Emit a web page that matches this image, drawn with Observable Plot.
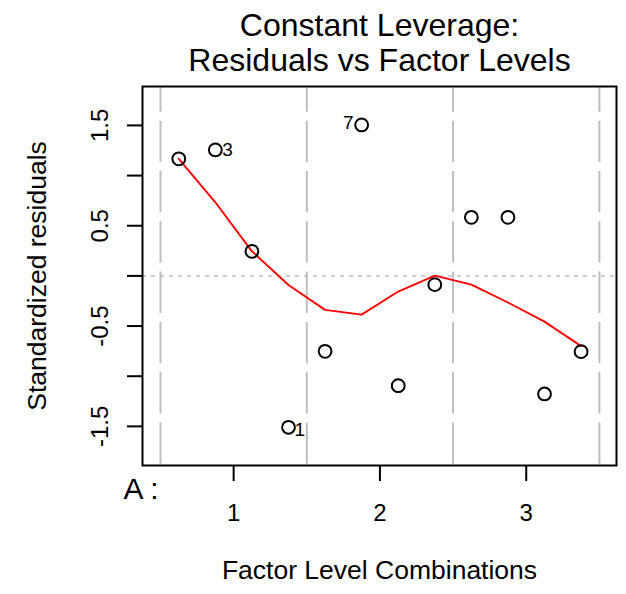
<!DOCTYPE html>
<html>
<head>
<meta charset="utf-8">
<script src="https://cdn.jsdelivr.net/npm/d3@7"></script>
<script src="https://cdn.jsdelivr.net/npm/@observablehq/plot@0.6"></script>
<style>
  html, body { margin: 0; padding: 0; background: #ffffff; }
  #chart svg { display: block; font-family: "Liberation Sans", Arial, Helvetica, sans-serif; }
</style>
</head>
<body>
<div id="chart"></div>
<script>
// ---- data ----
const titleLines = ["Constant Leverage:", "Residuals vs Factor Levels"];
const xLabel = "Factor Level Combinations";
const yLabel = "Standardized residuals";
const factorName = "A :";

// position of each observation along the factor-level axis
const facPos = [0.625, 0.875, 1.125, 1.375, 1.625, 1.875, 2.125, 2.375, 2.625, 2.875, 3.125, 3.375];
// standardized residuals
const resid = [1.167, 1.256, 0.245, -1.509, -0.752, 1.505, -1.094, -0.087, 0.584, 0.584, -1.177, -0.755];
// smoothed (red) line
const smooth = [1.167, 0.734, 0.245, -0.090, -0.339, -0.386, -0.156, 0.003, -0.087, -0.265, -0.456, -0.700];
// observation ids shown on the plot
const ids = ["", "3", "", "1", "", "7", "", "", "", "", "", ""];

const levelTicks = [1, 2, 3];
const levelLabels = ["1", "2", "3"];
const levelBounds = [0.5, 1.5, 2.5, 3.5];
const yTicks = [-1.5, -1, -0.5, 0, 0.5, 1, 1.5];
const yTickLabels = ["-1.5", "", "-0.5", "", "0.5", "", "1.5"];

// ---- build table ----
const pts = facPos.map((x, i) => ({x, r: resid[i], s: smooth[i], id: ids[i]}));
const yLab = yTicks.map((v, i) => ({v, t: yTickLabels[i]})).filter(d => d.t !== "");
const xLab = levelTicks.map((v, i) => ({v, t: levelLabels[i]}));

const fontFam = "Liberation Sans, Arial, Helvetica, sans-serif";

const chart = Plot.plot({
  width: 626,
  height: 594,
  marginLeft: 142,
  marginRight: 10,
  marginTop: 86,
  marginBottom: 129,
  style: {background: "#ffffff", fontFamily: fontFam, overflow: "visible"},
  x: {domain: [0.377, 3.617]},
  y: {domain: [-1.89, 1.888]},
  marks: [
    // factor level separators
    Plot.ruleX(levelBounds, {stroke: "#bebebe", strokeWidth: 2, strokeDasharray: "41.3,9", strokeDashoffset: 15.6}),
    // zero line
    Plot.ruleY([0], {stroke: "#bebebe", strokeWidth: 1.5, strokeDasharray: "4,5"}),
    // smooth
    Plot.line(pts, {x: "x", y: "s", stroke: "#ff0000", strokeWidth: 1.9}),
    // points
    Plot.dot(pts, {x: "x", y: "r", r: 6.4, stroke: "#000000", strokeWidth: 2, fill: "none"}),
    // id labels
    Plot.text(pts.filter(d => d.id === "3"), {x: "x", y: "r", text: "id", textAnchor: "start", lineAnchor: "middle", dx: 7, dy: 0, fontSize: 19, fill: "#000"}),
    Plot.text(pts.filter(d => d.id === "1"), {x: "x", y: "r", text: "id", textAnchor: "start", lineAnchor: "middle", dx: 6, dy: 3, fontSize: 19, fill: "#000"}),
    Plot.text(pts.filter(d => d.id === "7"), {x: "x", y: "r", text: "id", textAnchor: "end", lineAnchor: "middle", dx: -8, dy: -2, fontSize: 19, fill: "#000"}),
    // axes ticks
    Plot.axisY(yTicks, {tickSize: 15, tickFormat: () => "", stroke: "#000", strokeWidth: 2, label: null}),
    Plot.axisX(levelTicks, {tickSize: 16, tickFormat: () => "", stroke: "#000", strokeWidth: 2, label: null}),
    // y tick labels (rotated, as in R)
    Plot.text(yLab, {y: "v", text: "t", frameAnchor: "left", textAnchor: "middle", lineAnchor: "middle", dx: -42, rotate: -90, fontSize: 24, fill: "#000"}),
    // x tick labels
    Plot.text(xLab, {x: "v", text: "t", frameAnchor: "bottom", textAnchor: "middle", lineAnchor: "middle", dy: 48, fontSize: 24, fill: "#000"}),
    // factor name
    Plot.text([factorName], {frameAnchor: "bottom-left", textAnchor: "end", lineAnchor: "bottom", dx: 16, dy: 33, fontSize: 30, fill: "#000"}),
    // frame
    Plot.frame({stroke: "#000", strokeWidth: 2}),
    // titles
    Plot.text([titleLines[0]], {frameAnchor: "top", textAnchor: "middle", lineAnchor: "bottom", dy: -51, fontSize: 32, fill: "#000"}),
    Plot.text([titleLines[1]], {frameAnchor: "top", textAnchor: "middle", lineAnchor: "bottom", dy: -16, fontSize: 32, fill: "#000"}),
    // axis labels
    Plot.text([xLabel], {frameAnchor: "bottom", textAnchor: "middle", lineAnchor: "bottom", dy: 113, fontSize: 26.5, fill: "#000"}),
    Plot.text([yLabel], {frameAnchor: "left", textAnchor: "middle", lineAnchor: "bottom", dx: -97, rotate: -90, fontSize: 26.5, fill: "#000"})
  ]
});
document.getElementById("chart").appendChild(chart);
</script>
</body>
</html>
